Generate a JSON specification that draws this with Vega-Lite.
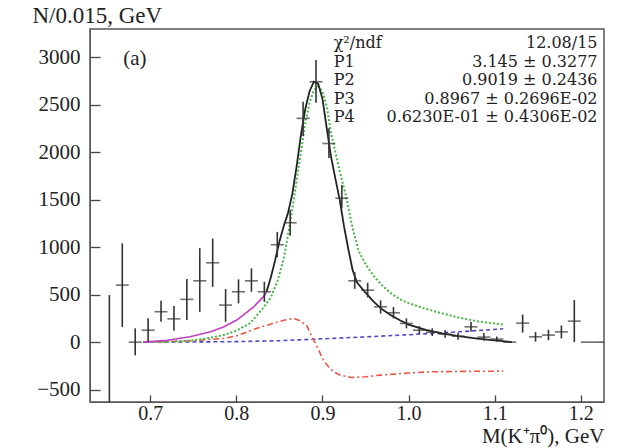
{
  "$schema": "https://vega.github.io/schema/vega-lite/v6.json",
  "width": 514,
  "height": 373,
  "autosize": {"type": "none"},
  "padding": {"left": 90, "top": 29, "right": 19, "bottom": 46},
  "background": "white",
  "config": {
    "view": {"stroke": "#555", "strokeWidth": 1.5},
    "font": "Liberation Serif",
    "axis": {"grid": false, "labelFont": "Liberation Serif", "titleFont": "Liberation Serif", "labelColor": "#222", "titleColor": "#222", "domainColor": "#555", "tickColor": "#444", "tickWidth": 1.3, "titleFontWeight": "normal"}
  },
  "datasets": {
    "points": [
      {"x":0.6525,"y":null,"lo":-700,"hi":495},
      {"x":0.6675,"y":600,"lo":160,"hi":1040},
      {"x":0.6825,"y":0,"lo":-140,"hi":145},
      {"x":0.6975,"y":125,"lo":5,"hi":250},
      {"x":0.7125,"y":320,"lo":215,"hi":435},
      {"x":0.7275,"y":245,"lo":120,"hi":380},
      {"x":0.7425,"y":450,"lo":232,"hi":663},
      {"x":0.7575,"y":645,"lo":319,"hi":989},
      {"x":0.7725,"y":835,"lo":582,"hi":1090},
      {"x":0.7875,"y":390,"lo":214,"hi":558},
      {"x":0.8025,"y":530,"lo":407,"hi":660},
      {"x":0.8175,"y":645,"lo":530,"hi":776},
      {"x":0.8325,"y":530,"lo":424,"hi":635},
      {"x":0.8475,"y":1025,"lo":895,"hi":1160},
      {"x":0.8625,"y":1256,"lo":1120,"hi":1390},
      {"x":0.8775,"y":2355,"lo":2170,"hi":2530},
      {"x":0.8925,"y":2740,"lo":2520,"hi":2968},
      {"x":0.9075,"y":2090,"lo":1937,"hi":2250},
      {"x":0.9225,"y":1515,"lo":1410,"hi":1653},
      {"x":0.9375,"y":645,"lo":560,"hi":735},
      {"x":0.9525,"y":547,"lo":470,"hi":625},
      {"x":0.9675,"y":372,"lo":300,"hi":440},
      {"x":0.9825,"y":309,"lo":250,"hi":370},
      {"x":0.9975,"y":197,"lo":145,"hi":250},
      {"x":1.0125,"y":126,"lo":85,"hi":170},
      {"x":1.0275,"y":105,"lo":65,"hi":145},
      {"x":1.0425,"y":84,"lo":45,"hi":125},
      {"x":1.0575,"y":63,"lo":25,"hi":100},
      {"x":1.0725,"y":161,"lo":110,"hi":215},
      {"x":1.0875,"y":53,"lo":15,"hi":95},
      {"x":1.1025,"y":32,"lo":5,"hi":60},
      {"x":1.1175,"y":0,"lo":0,"hi":0},
      {"x":1.1325,"y":200,"lo":100,"hi":290},
      {"x":1.1475,"y":56,"lo":5,"hi":105},
      {"x":1.1625,"y":74,"lo":20,"hi":130},
      {"x":1.1775,"y":108,"lo":40,"hi":175},
      {"x":1.1925,"y":221,"lo":0,"hi":442},
      {"x":1.2075,"y":0,"lo":0,"hi":0},
      {"x":1.2225,"y":0,"lo":0,"hi":0}
    ],
    "curves": [
      {"c":"fit","x":0.835,"y":530},{"c":"fit","x":0.84,"y":680},{"c":"fit","x":0.845,"y":860},{"c":"fit","x":0.85,"y":1060},{"c":"fit","x":0.855,"y":1220},{"c":"fit","x":0.86,"y":1360},{"c":"fit","x":0.865,"y":1560},{"c":"fit","x":0.87,"y":1850},{"c":"fit","x":0.875,"y":2180},{"c":"fit","x":0.88,"y":2450},{"c":"fit","x":0.885,"y":2640},{"c":"fit","x":0.89,"y":2740},{"c":"fit","x":0.895,"y":2720},{"c":"fit","x":0.9,"y":2560},{"c":"fit","x":0.905,"y":2250},{"c":"fit","x":0.91,"y":1950},{"c":"fit","x":0.915,"y":1720},{"c":"fit","x":0.92,"y":1500},{"c":"fit","x":0.925,"y":1220},{"c":"fit","x":0.93,"y":980},{"c":"fit","x":0.935,"y":760},{"c":"fit","x":0.94,"y":630},{"c":"fit","x":0.95,"y":520},{"c":"fit","x":0.96,"y":420},{"c":"fit","x":0.97,"y":340},{"c":"fit","x":0.98,"y":280},{"c":"fit","x":0.99,"y":230},{"c":"fit","x":1.0,"y":185},{"c":"fit","x":1.02,"y":130},{"c":"fit","x":1.04,"y":90},{"c":"fit","x":1.06,"y":60},{"c":"fit","x":1.08,"y":38},{"c":"fit","x":1.1,"y":18},{"c":"fit","x":1.12,"y":0},
      {"c":"bw","x":0.692,"y":0},{"c":"bw","x":0.72,"y":5},{"c":"bw","x":0.746,"y":14},{"c":"bw","x":0.77,"y":45},{"c":"bw","x":0.785,"y":74},{"c":"bw","x":0.8,"y":120},{"c":"bw","x":0.816,"y":200},{"c":"bw","x":0.831,"y":358},{"c":"bw","x":0.84,"y":470},{"c":"bw","x":0.848,"y":650},{"c":"bw","x":0.855,"y":880},{"c":"bw","x":0.863,"y":1280},{"c":"bw","x":0.87,"y":1700},{"c":"bw","x":0.875,"y":2000},{"c":"bw","x":0.88,"y":2300},{"c":"bw","x":0.885,"y":2520},{"c":"bw","x":0.89,"y":2650},{"c":"bw","x":0.895,"y":2690},{"c":"bw","x":0.9,"y":2640},{"c":"bw","x":0.905,"y":2480},{"c":"bw","x":0.91,"y":2200},{"c":"bw","x":0.915,"y":2000},{"c":"bw","x":0.92,"y":1800},{"c":"bw","x":0.927,"y":1550},{"c":"bw","x":0.935,"y":1200},{"c":"bw","x":0.942,"y":960},{"c":"bw","x":0.95,"y":820},{"c":"bw","x":0.96,"y":690},{"c":"bw","x":0.97,"y":590},{"c":"bw","x":0.98,"y":510},{"c":"bw","x":0.99,"y":450},{"c":"bw","x":1.0,"y":410},{"c":"bw","x":1.02,"y":350},{"c":"bw","x":1.04,"y":300},{"c":"bw","x":1.06,"y":255},{"c":"bw","x":1.08,"y":220},{"c":"bw","x":1.1,"y":195},{"c":"bw","x":1.11,"y":185},
      {"c":"int","x":0.692,"y":0},{"c":"int","x":0.72,"y":5},{"c":"int","x":0.75,"y":15},{"c":"int","x":0.785,"y":39},{"c":"int","x":0.8,"y":65},{"c":"int","x":0.824,"y":147},{"c":"int","x":0.84,"y":190},{"c":"int","x":0.855,"y":230},{"c":"int","x":0.867,"y":250},{"c":"int","x":0.875,"y":220},{"c":"int","x":0.882,"y":170},{"c":"int","x":0.886,"y":90},{"c":"int","x":0.89,"y":20},{"c":"int","x":0.895,"y":-70},{"c":"int","x":0.901,"y":-189},{"c":"int","x":0.907,"y":-260},{"c":"int","x":0.913,"y":-312},{"c":"int","x":0.92,"y":-345},{"c":"int","x":0.933,"y":-372},{"c":"int","x":0.95,"y":-365},{"c":"int","x":0.967,"y":-347},{"c":"int","x":1.0,"y":-325},{"c":"int","x":1.026,"y":-312},{"c":"int","x":1.06,"y":-308},{"c":"int","x":1.11,"y":-305},
      {"c":"bg","x":0.692,"y":0},{"c":"bg","x":0.75,"y":2},{"c":"bg","x":0.8,"y":5},{"c":"bg","x":0.85,"y":15},{"c":"bg","x":0.89,"y":31},{"c":"bg","x":0.95,"y":55},{"c":"bg","x":1.0,"y":78},{"c":"bg","x":1.026,"y":91},{"c":"bg","x":1.06,"y":110},{"c":"bg","x":1.11,"y":140},
      {"c":"ext","x":0.692,"y":0},{"c":"ext","x":0.72,"y":20},{"c":"ext","x":0.746,"y":56},{"c":"ext","x":0.77,"y":110},{"c":"ext","x":0.785,"y":160},{"c":"ext","x":0.8,"y":230},{"c":"ext","x":0.808,"y":284},{"c":"ext","x":0.82,"y":370},{"c":"ext","x":0.832,"y":484},{"c":"ext","x":0.835,"y":525}
    ]
  },
  "encoding": {
    "x": {"type": "quantitative", "scale": {"domain": [0.63, 1.227], "nice": false, "zero": false},
      "axis": {"values": [0.7, 0.8, 0.9, 1.0, 1.1, 1.2], "format": ".1f", "labelFontSize": 20, "tickSize": -7, "labelPadding": 8, "title": "M(K⁺π⁰), GeV", "titleFontSize": 21, "titleAnchor": "end", "titleAlign": "right", "titleX": 514, "titleY": 40, "titleBaseline": "alphabetic"}},
    "y": {"type": "quantitative", "scale": {"domain": [-630, 3295], "nice": false, "zero": false},
      "axis": {"values": [-500, 0, 500, 1000, 1500, 2000, 2500, 3000], "format": "d", "labelFontSize": 21, "tickSize": -10, "labelPadding": 20, "title": "N/0.015, GeV", "titleFontSize": 23, "titleAngle": 0, "titleAlign": "left", "titleBaseline": "middle", "titleX": -58, "titleY": -14}}
  },
  "layer": [
    {"data": {"name": "curves"}, "transform": [{"filter": "datum.c === 'bg'"}], "mark": {"type": "line", "stroke": "#4a4ac8", "strokeWidth": 1.6, "strokeDash": [4, 3], "clip": true}, "encoding": {"x": {"field": "x"}, "y": {"field": "y"}}},
    {"data": {"name": "curves"}, "transform": [{"filter": "datum.c === 'int'"}], "mark": {"type": "line", "stroke": "#ee5544", "strokeWidth": 1.6, "strokeDash": [6, 3, 2, 3], "clip": true}, "encoding": {"x": {"field": "x"}, "y": {"field": "y"}}},
    {"data": {"name": "curves"}, "transform": [{"filter": "datum.c === 'bw'"}], "mark": {"type": "line", "stroke": "#44b844", "strokeWidth": 2, "strokeDash": [2, 2], "clip": true}, "encoding": {"x": {"field": "x"}, "y": {"field": "y"}}},
    {"data": {"name": "curves"}, "transform": [{"filter": "datum.c === 'ext'"}], "mark": {"type": "line", "stroke": "#c040c0", "strokeWidth": 1.6, "clip": true}, "encoding": {"x": {"field": "x"}, "y": {"field": "y"}}},
    {"data": {"name": "curves"}, "transform": [{"filter": "datum.c === 'fit'"}], "mark": {"type": "line", "stroke": "#222", "strokeWidth": 1.8, "clip": true}, "encoding": {"x": {"field": "x"}, "y": {"field": "y"}}},
    {"data": {"name": "points"}, "mark": {"type": "rule", "stroke": "#333", "strokeWidth": 1.6, "clip": true}, "encoding": {"x": {"field": "x"}, "y": {"field": "lo"}, "y2": {"field": "hi"}}},
    {"data": {"name": "points"}, "mark": {"type": "tick", "orient": "horizontal", "color": "#333", "size": 13, "thickness": 1.6, "clip": true}, "encoding": {"x": {"field": "x"}, "y": {"field": "y"}}},
    {"data": {"values": [{}]}, "mark": {"type": "text", "text": ["χ²/ndf", "P1", "P2", "P3", "P4"], "align": "left", "baseline": "alphabetic", "fontSize": 16, "lineHeight": 18.5, "font": "DejaVu Serif", "color": "#222"}, "encoding": {"x": {"datum": 0.913}, "y": {"datum": 3090}}},
    {"data": {"values": [{}]}, "mark": {"type": "text", "text": ["12.08/15", "3.145 ± 0.3277", "0.9019 ± 0.2436", "0.8967 ± 0.2696E-02", "0.6230E-01 ± 0.4306E-02"], "align": "right", "baseline": "alphabetic", "fontSize": 16, "lineHeight": 18.5, "font": "DejaVu Serif", "color": "#222"}, "encoding": {"x": {"datum": 1.2195}, "y": {"datum": 3090}}},
    {"data": {"values": [{}]}, "mark": {"type": "text", "text": "(a)", "align": "left", "baseline": "alphabetic", "fontSize": 21, "font": "Liberation Serif", "color": "#222"}, "encoding": {"x": {"datum": 0.6686}, "y": {"datum": 2916}}}
  ]
}
